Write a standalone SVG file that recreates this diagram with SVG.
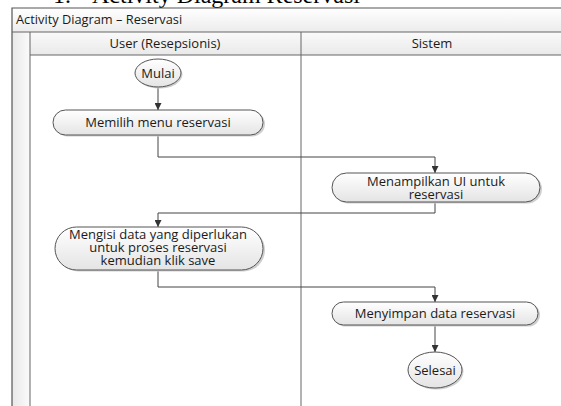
<svg xmlns="http://www.w3.org/2000/svg" width="561" height="406" viewBox="0 0 561 406">
<defs>
<linearGradient id="gTitle" x1="0" y1="0" x2="0" y2="1"><stop offset="0" stop-color="#ffffff"/><stop offset="1" stop-color="#ececec"/></linearGradient>
<linearGradient id="gHead" x1="0" y1="0" x2="0" y2="1"><stop offset="0" stop-color="#fafafa"/><stop offset="1" stop-color="#e9e9e9"/></linearGradient>
<linearGradient id="gStrip" x1="0" y1="0" x2="1" y2="0"><stop offset="0" stop-color="#e8e8e8"/><stop offset="1" stop-color="#fbfbfb"/></linearGradient>
<linearGradient id="gNode" x1="0" y1="0" x2="0" y2="1"><stop offset="0" stop-color="#ffffff"/><stop offset="1" stop-color="#e4e4e4"/></linearGradient>
<marker id="arr" viewBox="0 0 10 10" refX="10" refY="5" markerWidth="7" markerHeight="7" markerUnits="userSpaceOnUse" orient="auto"><path d="M0,0 L10,5 L0,10 z" fill="#333"/></marker>
</defs>
<style>
.frame{fill:none;stroke:#555;stroke-width:1.2}
.lane{stroke:#666;stroke-width:1}
.node{fill:url(#gNode);stroke:#555;stroke-width:1}
.shadow{fill:#cfcfcf;stroke:none}
.t{font-family:"Open Sans","DejaVu Sans",sans-serif;font-size:13px;fill:#1a1a1a;text-anchor:middle}
.hd{font-family:"Open Sans","DejaVu Sans",sans-serif;font-size:12.8px;fill:#1a1a1a}
.conn{fill:none;stroke:#444;stroke-width:1}
.cap{font-family:"Liberation Serif","Times New Roman",serif;font-size:24px;fill:#000}
</style>
<rect width="561" height="406" fill="#ffffff"/>
<text class="cap" x="53" y="3">1.</text>
<text class="cap" x="92" y="3">Activity Diagram Reservasi</text>

<g id="pool">
<rect x="12" y="8" width="560" height="24" fill="url(#gTitle)"/>
<rect x="30" y="32" width="542" height="23" fill="url(#gHead)"/>
<rect x="12" y="32" width="18" height="380" fill="url(#gStrip)"/>
<path class="frame" d="M12,420 V8 H570"/>
<line class="lane" x1="12" y1="32" x2="570" y2="32"/>
<line class="lane" x1="30" y1="55" x2="570" y2="55"/>
<line class="lane" x1="30" y1="32" x2="30" y2="420"/>
<line class="lane" x1="301" y1="32" x2="301" y2="420"/>
<text class="hd" x="16" y="24">Activity Diagram – Reservasi</text>
<text class="t" x="165" y="48">User (Resepsionis)</text>
<text class="t" x="432" y="48">Sistem</text>
</g>

<g id="connectors">
<line class="conn" x1="158" y1="87" x2="158" y2="110" marker-end="url(#arr)"/>
<path class="conn" d="M158,135 V157 H435 V173" marker-end="url(#arr)"/>
<path class="conn" d="M435,202 V213 H158 V227" marker-end="url(#arr)"/>
<path class="conn" d="M158,270 V287 H435 V302" marker-end="url(#arr)"/>
<line class="conn" x1="435" y1="325" x2="435" y2="352" marker-end="url(#arr)"/>
</g>

<g id="mulai">
<ellipse class="shadow" cx="159.5" cy="74.5" rx="23" ry="14"/>
<ellipse class="node" cx="158" cy="73" rx="23" ry="14"/>
<text class="t" x="158" y="77.5">Mulai</text>
</g>
<g id="memilih">
<rect class="shadow" x="55" y="111.5" width="210" height="25" rx="12.5"/>
<rect class="node" x="53" y="110" width="210" height="25" rx="12.5"/>
<text class="t" x="158" y="127">Memilih menu reservasi</text>
</g>
<g id="menampilkan">
<rect class="shadow" x="334" y="174.5" width="208" height="29" rx="14.5"/>
<rect class="node" x="332" y="173" width="208" height="29" rx="14.5"/>
<text class="t" x="436" y="186">Menampilkan UI untuk</text>
<text class="t" x="436" y="198.5">reservasi</text>
</g>
<g id="mengisi">
<rect class="shadow" x="57" y="228.5" width="208" height="43" rx="21.5"/>
<rect class="node" x="55" y="227" width="208" height="43" rx="21.5"/>
<text class="t" x="158" y="239">Mengisi data yang diperlukan</text>
<text class="t" x="158" y="252">untuk proses reservasi</text>
<text class="t" x="158" y="265">kemudian klik save</text>
</g>
<g id="menyimpan">
<rect class="shadow" x="334" y="303.5" width="206" height="23" rx="11.5"/>
<rect class="node" x="332" y="302" width="206" height="23" rx="11.5"/>
<text class="t" x="435" y="318">Menyimpan data reservasi</text>
</g>
<g id="selesai">
<ellipse class="shadow" cx="436.5" cy="371.5" rx="27" ry="18"/>
<ellipse class="node" cx="435" cy="370" rx="27" ry="18"/>
<text class="t" x="435" y="374.5">Selesai</text>
</g>
</svg>
